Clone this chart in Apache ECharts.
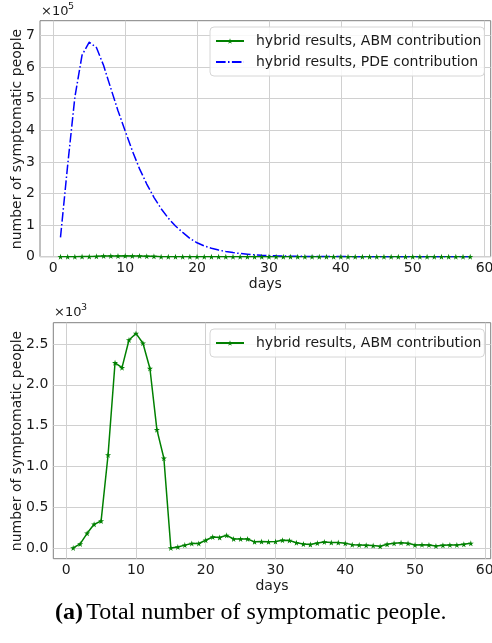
<!DOCTYPE html>
<html><head><meta charset="utf-8">
<script src="https://cdn.jsdelivr.net/npm/echarts@6/dist/echarts.min.js"></script>
<style>html,body{margin:0;padding:0;background:#fff}#c{width:492px;height:643px}</style>
</head><body><div id="c"></div>
<script>
// ---- data ----
const days = [1,2,3,4,5,6,7,8,9,10,11,12,13,14,15,16,17,18,19,20,21,22,23,24,25,26,27,28,29,30,
  31,32,33,34,35,36,37,38,39,40,41,42,43,44,45,46,47,48,49,50,51,52,53,54,55,56,57,58];
const abmValues = [0,50,180,290,330,1140,2270,2210,2550,2630,2510,2200,1450,1100,
  0,12,35,55,55,95,135,128,155,110,110,110,
  75,78,75,78,95,92,65,48,42,60,
  74,66,66,57,41,37,33,29,20,45,
  57,65,57,37,41,37,25,33,37,37,45,57];
const pdeValues = [61000,290000,505000,638000,679000,662000,605000,533000,462000,398000,
  335000,278000,230000,188000,152000,122000,97000,77000,58000,44000,
  34000,27000,21000,16500,13000,10000,8000,6000,4500,3500,
  2700,2100,1600,1300,1000,800,600,500,400,300,
  250,200,170,140,120,100,80,70,60,50,40,35,30,25,20,18,15,12];
const xTicks = [0,10,20,30,40,50,60];
const topYTicks = [0,100000,200000,300000,400000,500000,600000,700000];
const bottomYTicks = [0,500,1000,1500,2000,2500];
const abmName = 'hybrid results, ABM contribution';
const pdeName = 'hybrid results, PDE contribution';
const yTitle = 'number of symptomatic people';

// ---- build ----
const abmData = days.map((d,i)=>[d,abmValues[i]]);
const pdeData = days.map((d,i)=>[d,pdeValues[i]]);
const FONT = 'DejaVu Sans';
const TXT = '#1a1a1a';
const GRIDC = '#d0d0d0';
const SPINE = '#808080';
const star = 'path://M50,0 L61,35 L98,35 L68,57 L79,91 L50,70 L21,91 L32,57 L2,35 L39,35 Z';

function xAxis(gi){
  return {gridIndex:gi, type:'value', min:-1.85, max:60.85,
    axisLine:{show:false}, axisTick:{show:false, customValues:xTicks},
    axisLabel:{customValues:xTicks, margin:5, fontSize:14, fontFamily:FONT, color:TXT},
    splitLine:{show:true, lineStyle:{color:GRIDC, width:1}},
    name:'days', nameLocation:'middle', nameGap:21,
    nameTextStyle:{fontSize:14, fontFamily:FONT, color:TXT}};
}
function legendBox(top, items){
  return {left:210, top:top, orient:'vertical', padding:[6,3,6,5], itemGap:5, itemWidth:28, itemHeight:7,
    data:items, backgroundColor:'rgba(255,255,255,0.85)', borderColor:'#d6d6d6',
    borderWidth:1, borderRadius:4, selectedMode:false,
    textStyle:{fontSize:14, lineHeight:16, fontFamily:FONT, color:TXT, padding:[0,0,0,7]}};
}
function yTitleText(x, y){
  return {type:'text', x:x, y:y, rotation:Math.PI/2,
    style:{text:yTitle, fontSize:14, fontFamily:FONT, fill:TXT, align:'center', verticalAlign:'middle'}};
}
const chart = echarts.init(document.getElementById('c'), null, {renderer:'canvas'});
chart.setOption({
  animation:false,
  backgroundColor:'#fff',
  grid:[
    {left:40, top:20.7, width:450.7, height:236, show:true, borderColor:SPINE, borderWidth:1, outerBoundsMode:'none'},
    {left:53.3, top:322.7, width:437.4, height:236, show:true, borderColor:SPINE, borderWidth:1, outerBoundsMode:'none'}
  ],
  xAxis:[xAxis(0), xAxis(1)],
  yAxis:[
    {gridIndex:0, type:'value', min:0, max:747000,
      axisLine:{show:false}, axisTick:{show:false, customValues:topYTicks},
      axisLabel:{customValues:topYTicks, margin:5, fontSize:14, fontFamily:FONT, color:TXT,
        formatter:v=>String(Math.round(v/100000))},
      splitLine:{show:true, lineStyle:{color:GRIDC, width:1}}},
    {gridIndex:1, type:'value', min:-131.5, max:2761.5,
      axisLine:{show:false}, axisTick:{show:false, customValues:bottomYTicks},
      axisLabel:{customValues:bottomYTicks, margin:5, fontSize:14, fontFamily:FONT, color:TXT,
        formatter:v=>(v/1000).toFixed(1)},
      splitLine:{show:true, lineStyle:{color:GRIDC, width:1}}}
  ],
  legend:[
    legendBox(27, [abmName, {name:pdeName, itemStyle:{opacity:0}}]),
    legendBox(329, [abmName])
  ],
  series:[
    {name:abmName, type:'line', xAxisIndex:0, yAxisIndex:0, data:abmData, color:'#008000',
      lineStyle:{width:1.5, color:'#008000'}, symbol:star, symbolSize:6, showAllSymbol:true,
      itemStyle:{color:'#008000'}},
    {name:pdeName, type:'line', xAxisIndex:0, yAxisIndex:0, data:pdeData, color:'#0000ff',
      lineStyle:{width:1.5, color:'#0000ff', type:[9.6,2.4,1.5,2.4]}, symbol:'none',
      itemStyle:{color:'#0000ff'}},
    {name:abmName, type:'line', xAxisIndex:1, yAxisIndex:1, data:abmData, color:'#008000',
      lineStyle:{width:1.5, color:'#008000'}, symbol:star, symbolSize:6, showAllSymbol:true,
      itemStyle:{color:'#008000'}}
  ],
  graphic:[
    yTitleText(17, 139),
    yTitleText(17, 441),
    {type:'text', left:41, top:5, style:{text:'×10', fontSize:13, fontFamily:FONT, fill:TXT}},
    {type:'text', left:68, top:2, style:{text:'5', fontSize:9.5, fontFamily:FONT, fill:TXT}},
    {type:'text', left:54, top:306, style:{text:'×10', fontSize:13, fontFamily:FONT, fill:TXT}},
    {type:'text', left:81, top:303, style:{text:'3', fontSize:9.5, fontFamily:FONT, fill:TXT}},
    {type:'text', left:55, top:601, style:{
      text:'{b|(a)} {n|Total number of symptomatic people.}',
      rich:{b:{fontSize:24, fontFamily:'Liberation Serif', fontWeight:'bold', fill:'#000'},
            n:{fontSize:24, fontFamily:'Liberation Serif', fill:'#000'}}}}
  ]
});
</script>
</body></html>
